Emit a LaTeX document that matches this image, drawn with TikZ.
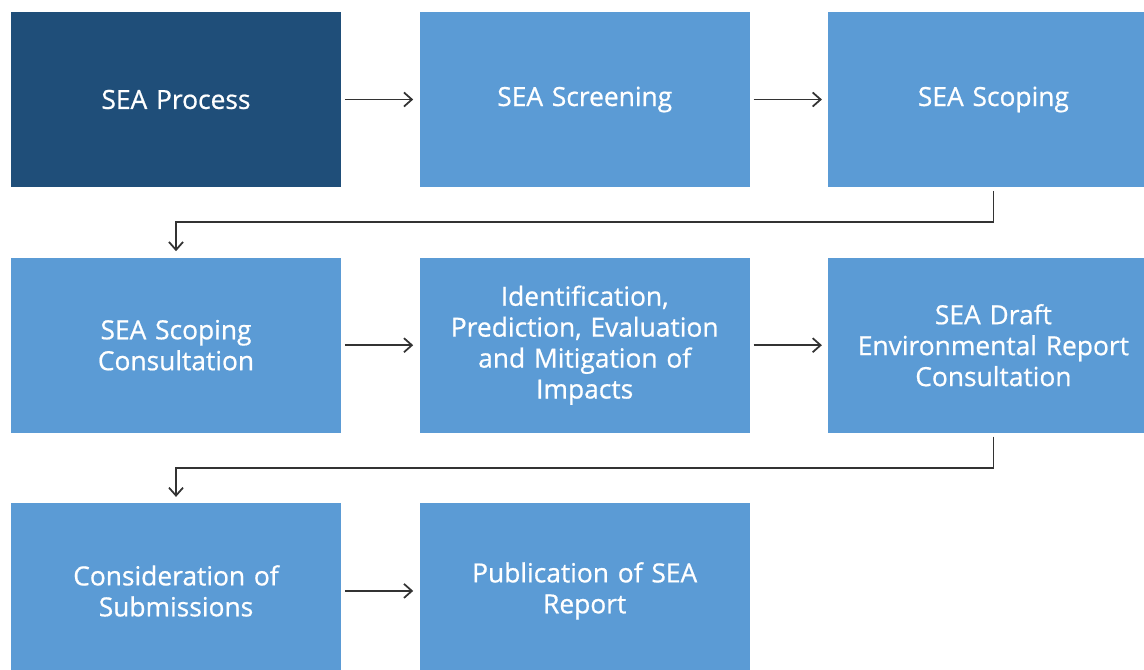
\documentclass[tikz,border=0pt]{standalone}
\usepackage{fontspec}
\setmainfont{Open Sans}
\newfontfamily\boxfont{Open Sans}[FakeBold=0.7]
\usetikzlibrary{arrows.meta, positioning}

\definecolor{seadark}{HTML}{1F4E79}
\definecolor{sealight}{HTML}{5B9BD5}

\begin{document}
\begin{tikzpicture}[node distance=1.4cm and 1.56cm]
\tikzstyle{box} = [rectangle, fill=sealight, minimum width=6.6cm, minimum height=3.5cm, text width=6.5cm, align=center, text=white, font=\boxfont\fontsize{15}{17.6}\selectfont, inner sep=0pt]
\tikzstyle{arrow} = [-{Straight Barb[length=4.5pt,width=8pt]}, draw=black!80, line width=1pt, shorten <=2pt, shorten >=3.5pt]

\clip (0,0) rectangle (22.88,-13.4);

\node[box, fill=seadark] (process) at (3.52,-1.99) {SEA Process};
\node[box, right=of process] (screening) {SEA Screening};
\node[box, right=of screening] (scoping) {SEA Scoping};

\node[box, below=of process] (consult) {SEA Scoping\\Consultation};
\node[box, right=of consult] (impacts) {Identification,\\Prediction, Evaluation\\and Mitigation of\\Impacts};
\node[box, right=of impacts] (draft) {SEA Draft\\Environmental Report\\Consultation};

\node[box, below=of consult] (submissions) {Consideration of\\Submissions};
\node[box, right=of submissions] (publication) {Publication of SEA\\Report};

\draw[arrow] (process) -- (screening);
\draw[arrow] (screening) -- (scoping);
\draw[arrow] (scoping.south) -- ++(0,-0.7) -| (consult.north);
\draw[arrow] (consult) -- (impacts);
\draw[arrow] (impacts) -- (draft);
\draw[arrow] (draft.south) -- ++(0,-0.7) -| (submissions.north);
\draw[arrow] (submissions) -- (publication);
\end{tikzpicture}
\end{document}
